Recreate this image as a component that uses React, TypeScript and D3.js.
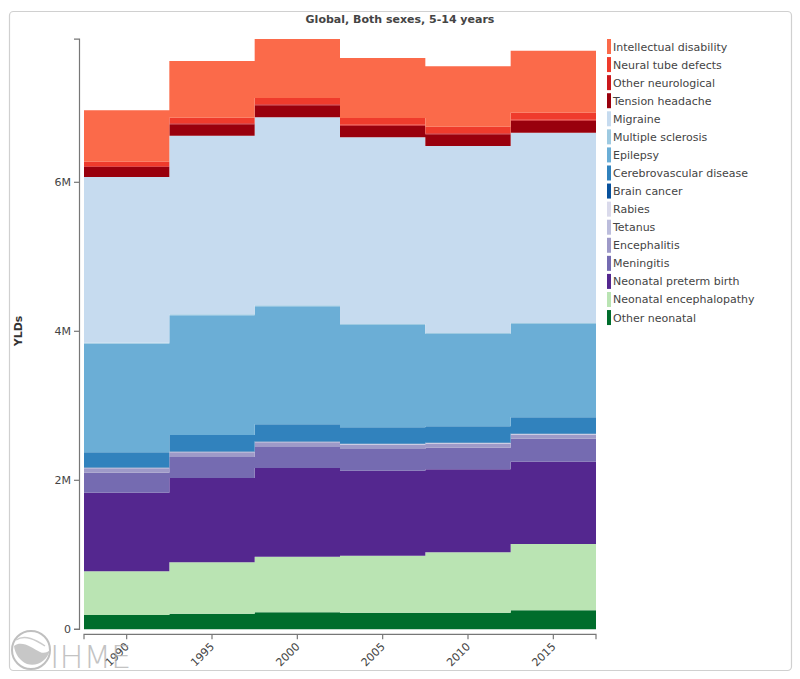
import React from "react";
import * as d3 from "d3";

const years = ["1990", "1995", "2000", "2005", "2010", "2015"];

const causes = [
  "Other neonatal",
  "Neonatal encephalopathy",
  "Neonatal preterm birth",
  "Meningitis",
  "Encephalitis",
  "Tetanus",
  "Rabies",
  "Brain cancer",
  "Cerebrovascular disease",
  "Epilepsy",
  "Multiple sclerosis",
  "Migraine",
  "Tension headache",
  "Other neurological",
  "Neural tube defects",
  "Intellectual disability",
];

const colors = [
  "#006d2c",
  "#bae4b3",
  "#54278f",
  "#756bb1",
  "#9e9ac8",
  "#bcbddc",
  "#dadaeb",
  "#08519c",
  "#3182bd",
  "#6baed6",
  "#9ecae1",
  "#c6dbef",
  "#99000d",
  "#cb181d",
  "#ef3b2c",
  "#fb6a4a",
];

// values in millions of YLDs, one entry per year
const otherNeonatal = [0.192, 0.209, 0.228, 0.223, 0.223, 0.255];
const neonatalEncephalopathy = [0.586, 0.69, 0.746, 0.765, 0.811, 0.89];
const neonatalPreterm = [1.056, 1.132, 1.191, 1.141, 1.114, 1.105];
const meningitis = [0.268, 0.282, 0.282, 0.291, 0.29, 0.308];
const encephalitis = [0.059, 0.063, 0.064, 0.061, 0.057, 0.057];
const tetanus = [0.005, 0.005, 0.004, 0.003, 0.003, 0.003];
const rabies = [0.003, 0.003, 0.003, 0.003, 0.003, 0.003];
const brainCancer = [0.006, 0.006, 0.006, 0.006, 0.006, 0.006];
const cerebrovascular = [0.201, 0.218, 0.228, 0.218, 0.218, 0.219];
const epilepsy = [1.459, 1.607, 1.584, 1.374, 1.239, 1.252];
const multipleSclerosis = [0.012, 0.013, 0.013, 0.013, 0.013, 0.013];
const migraine = [2.224, 2.398, 2.523, 2.506, 2.51, 2.555];
const tensionHeadache = [0.134, 0.153, 0.162, 0.156, 0.157, 0.161];
const otherNeurological = [0.012, 0.013, 0.013, 0.013, 0.013, 0.013];
const neuralTube = [0.06, 0.075, 0.085, 0.09, 0.089, 0.094];
const intellectual = [0.689, 0.761, 0.791, 0.805, 0.811, 0.832];

const seriesValues = [
  otherNeonatal,
  neonatalEncephalopathy,
  neonatalPreterm,
  meningitis,
  encephalitis,
  tetanus,
  rabies,
  brainCancer,
  cerebrovascular,
  epilepsy,
  multipleSclerosis,
  migraine,
  tensionHeadache,
  otherNeurological,
  neuralTube,
  intellectual,
];

const yTicks = [0, 2e6, 4e6, 6e6];

const W = 800;
const H = 679;
const plotLeft = 84;
const plotRight = 596;
const plotBottom = 629.3;

export default function App() {
  const rows = years.map((yr, i) => {
    const r: any = { year: yr };
    causes.forEach((c, k) => (r[c] = seriesValues[k][i] * 1e6));
    return r;
  });
  const stacked = d3.stack().keys(causes)(rows);
  const maxTotal = d3.max(rows, (r: any) => d3.sum(causes, (c) => r[c])) as number;

  const x = d3.scaleBand().domain(years).range([plotLeft, plotRight]).padding(0);
  const y = d3
    .scaleLinear()
    .domain([0, maxTotal])
    .range([plotBottom, plotBottom - (maxTotal / 1e6) * 74.5]);
  const yTop = y(maxTotal);
  const bw = x.bandwidth();

  const area = d3
    .area<any>()
    .x((d) => d.x)
    .y0((d) => d.y0)
    .y1((d) => d.y1);

  const paths = stacked.map((s, k) => {
    const pts: any[] = [];
    s.forEach((d: any, i: number) => {
      const x0 = x(years[i]) as number;
      pts.push({ x: x0, y0: y(d[0]), y1: y(d[1]) });
      pts.push({ x: x0 + bw, y0: y(d[0]), y1: y(d[1]) });
    });
    return <path key={causes[k]} d={area(pts) as string} fill={colors[k]} />;
  });

  const fmt = (v: number) => (v === 0 ? "0" : d3.format("~s")(v));
  const axisColor = "#777";
  const textColor = "#444";
  const font = "DejaVu Sans, Verdana, sans-serif";

  const legendOrder = causes.map((c, k) => ({ c, col: colors[k] })).reverse();

  const xAxisY = 634.3;

  return (
    <svg
      width={W}
      height={H}
      style={{ position: "absolute", left: 0, top: 0, fontFamily: font }}
    >
      <rect x={0} y={0} width={W} height={H} fill="#fff" />
      <rect
        x={9.5}
        y={11.5}
        width={782}
        height={659}
        rx={4}
        fill="#fff"
        stroke="#d0d0d0"
        strokeWidth={1.2}
      />
      <text
        x={400}
        y={23}
        textAnchor="middle"
        fontSize={11}
        fontWeight="bold"
        fill={textColor}
      >
        Global, Both sexes, 5-14 years
      </text>

      {paths}

      {/* y axis */}
      <g>
        <path
          d={`M74,${yTop}H79.5V${y(0)}H74`}
          fill="none"
          stroke={axisColor}
          strokeWidth={1.2}
        />
        {yTicks.map((t) => (
          <g key={t} transform={`translate(0,${y(t)})`}>
            <line x1={74} x2={79.5} stroke={axisColor} strokeWidth={1.2} />
            <text
              x={71}
              dy="0.32em"
              textAnchor="end"
              fontSize={11}
              fill={textColor}
            >
              {fmt(t)}
            </text>
          </g>
        ))}
        <text
          transform={`translate(22,331) rotate(-90)`}
          textAnchor="middle"
          fontSize={11}
          fontWeight="bold"
          fill="#333"
        >
          YLDs
        </text>
      </g>

      {/* x axis */}
      <g>
        <path
          d={`M${plotLeft},${xAxisY + 5}V${xAxisY}H${plotRight}V${xAxisY + 5}`}
          fill="none"
          stroke={axisColor}
          strokeWidth={1.2}
        />
        {years.map((yr) => {
          const cx = (x(yr) as number) + bw / 2;
          return (
            <g key={yr} transform={`translate(${cx},${xAxisY})`}>
              <line y1={0} y2={5} stroke={axisColor} strokeWidth={1.2} />
              <text
                transform="translate(3,13) rotate(-45)"
                textAnchor="end"
                fontSize={11}
                fill={textColor}
              >
                {yr}
              </text>
            </g>
          );
        })}
      </g>

      {/* legend */}
      <g>
        {legendOrder.map((l, i) => (
          <g key={l.c} transform={`translate(607,${39 + i * 18.07})`}>
            <rect x={0} y={0} width={4} height={15} fill={l.col} />
            <text x={6} y={11.5} fontSize={11} fill={textColor}>
              {l.c}
            </text>
          </g>
        ))}
      </g>

      {/* IHME logo */}
      <g opacity={0.75}>
        <circle cx={31} cy={650} r={19} fill="none" stroke="#aaa" strokeWidth={2} />
        <path
          d="M14,646 C22,640 32,648 40,652 C44,654 48,652 50,650 C47,661 37,667 27,664 C20,661 15,654 14,646 Z"
          fill="#b5b5b5"
        />
        <path
          d="M16,640 C25,634 36,640 45,646"
          fill="none"
          stroke="#bbb"
          strokeWidth={1.5}
        />
        <text x={50} y={668} fontSize={32} fill="#b0b0b0" fontFamily="DejaVu Sans, sans-serif" fontWeight={200}>
          IHME
        </text>
      </g>
    </svg>
  );
}
